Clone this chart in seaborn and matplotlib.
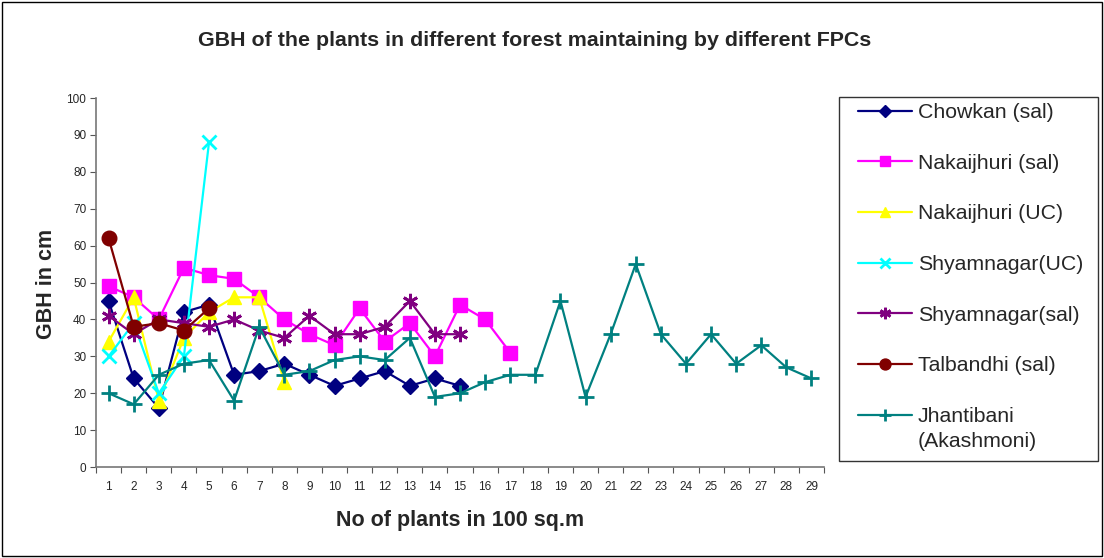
import numpy as np
import pandas as pd
import matplotlib
matplotlib.use("Agg")
import matplotlib.pyplot as plt
import seaborn as sns
from matplotlib.patches import Rectangle

sns.set_theme(style="white")
plt.rcParams['font.family'] = ['Liberation Sans', 'DejaVu Sans']

title = "GBH of the plants in different forest maintaining by different FPCs"
xlabel = "No of plants in 100 sq.m"
ylabel = "GBH in cm"

chowkan_sal = [45, 24, 16, 42, 44, 25, 26, 28, 25, 22, 24, 26, 22, 24, 22]
nakaijhuri_sal = [49, 46, 40, 54, 52, 51, 46, 40, 36, 33, 43, 34, 39, 30, 44, 40, 31]
nakaijhuri_uc = [34, 46, 18, 35, 42, 46, 46, 23]
shyamnagar_uc = [30, 39, 20, 30, 88]
shyamnagar_sal = [41, 36, 40, 39, 38, 40, 37, 35, 41, 36, 36, 38, 45, 36, 36]
talbandhi_sal = [62, 38, 39, 37, 43]
jhantibani = [20, 17, 25, 28, 29, 18, 38, 25, 26, 29, 30, 29, 35, 19, 20, 23, 25, 25,
              45, 19, 36, 55, 36, 28, 36, 28, 33, 27, 24]

series_names = ["Chowkan (sal)", "Nakaijhuri (sal)", "Nakaijhuri (UC)", "Shyamnagar(UC)",
                "Shyamnagar(sal)", "Talbandhi (sal)", "Jhantibani"]
last_label_extra = "(Akashmoni)"
series_values = [chowkan_sal, nakaijhuri_sal, nakaijhuri_uc, shyamnagar_uc,
                 shyamnagar_sal, talbandhi_sal, jhantibani]
x_categories = list(range(1, 30))

colors = ["#000080", "#FF00FF", "#FFFF00", "#00FFFF", "#800080", "#800000", "#008080"]
markers = ["D", "s", "^", "x", (6, 2, 0), "o", "+"]
msizes = [8.5, 10, 10, 10, 11, 10.5, 11]

fig = plt.figure(figsize=(11.04, 5.58), dpi=100)
ax = fig.add_axes([0.087, 0.163, 0.6594, 0.6613])

for name, vals, c, m, ms in zip(series_names, series_values, colors, markers, msizes):
    df = pd.DataFrame({"x": x_categories[:len(vals)], "y": vals})
    sns.lineplot(data=df, x="x", y="y", ax=ax, color=c, marker=m, markersize=ms,
                 linewidth=1.6, markeredgecolor=c,
                 markeredgewidth=2 if m in ("x", "+", (6, 2, 0)) else 1,
                 label=name, estimator=None)

ax.set_xlim(0.5, 29.5)
ax.set_ylim(0, 100)
ax.set_xticks(np.arange(0.5, 30, 1))
ax.set_xticklabels([])
ax.set_xticks(x_categories, minor=True)
ax.set_xticklabels([str(v) for v in x_categories], minor=True, fontsize=8.5)
ax.tick_params(axis='x', which='major', length=4, width=0.8, direction='out', bottom=True, color='#555555')
ax.tick_params(axis='x', which='minor', length=0, pad=10)
ax.set_yticks(range(0, 101, 10))
ax.tick_params(axis='y', labelsize=8.5, length=4, width=0.8, direction='out', left=True, color='#555555', pad=3)
for s in ["top", "right"]:
    ax.spines[s].set_visible(False)
for s in ["left", "bottom"]:
    ax.spines[s].set_color('#777777')
    ax.spines[s].set_linewidth(1.2)

ax.set_xlabel(xlabel, fontsize=15.5, fontweight='bold', va='top')
ax.xaxis.set_label_coords(0.5, -0.1165)
ax.set_ylabel(ylabel, fontsize=15.5, fontweight='bold')
ax.yaxis.set_label_coords(-0.0536, 0.496)
fig.text(0.4846, 0.928, title, fontsize=15.4, fontweight='bold', ha='center', va='center')

handles, labels = ax.get_legend_handles_labels()
if ax.get_legend():
    ax.get_legend().remove()
leg = fig.legend(handles, labels, loc='upper left', bbox_to_anchor=(858 / 1104, 1 - 103 / 558),
                 fontsize=15.3, frameon=False, borderaxespad=0, borderpad=0,
                 handlelength=2.54, labelspacing=1.49, handletextpad=0.28,
                 markerscale=0.75)
fig.canvas.draw()
last_txt = leg.get_texts()[-1]
bb = last_txt.get_window_extent().transformed(fig.transFigure.inverted())
fig.text(bb.x0, bb.y0 - 0.010, last_label_extra, fontsize=15.3, ha='left', va='top')

# legend frame
fig.patches.append(Rectangle((839 / 1104, 1 - 461 / 558), (1098 - 839) / 1104, (461 - 97) / 558,
                             transform=fig.transFigure, fill=False, edgecolor='#333333', linewidth=1.0))
# outer border
fig.patches.append(Rectangle((0.002, 0.003), 0.996, 0.994, transform=fig.transFigure,
                             fill=False, edgecolor='black', linewidth=1.0))

fig.savefig("out.png", dpi=100)
